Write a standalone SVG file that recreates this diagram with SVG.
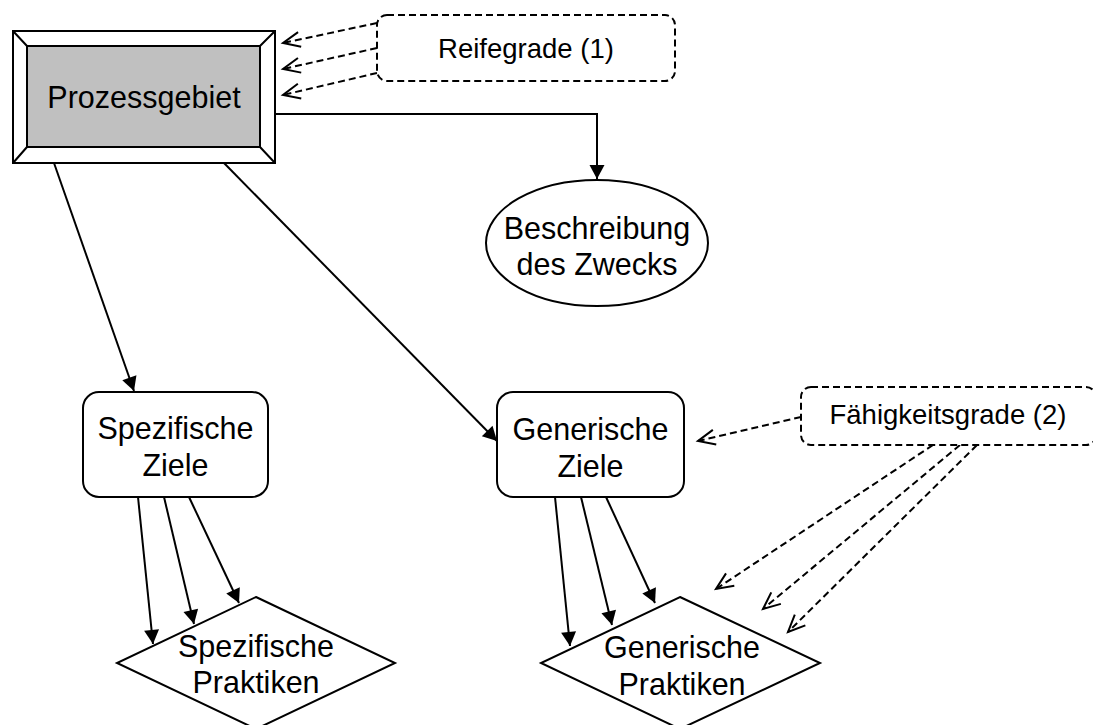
<svg xmlns="http://www.w3.org/2000/svg" width="1093" height="725" viewBox="0 0 1093 725">
<style>
.node{fill:#fff;stroke:#000;stroke-width:2}
.dash{fill:#fff;stroke:#000;stroke-width:2;stroke-dasharray:7 4}
.t{font-family:"Liberation Sans",Arial,Helvetica,sans-serif;font-size:30.5px;fill:#000;text-anchor:middle}
.ts{font-family:"Liberation Sans",Arial,Helvetica,sans-serif;font-size:27.5px;fill:#000;text-anchor:middle}
.e{fill:none;stroke:#000;stroke-width:2}
.ed{fill:none;stroke:#000;stroke-width:2;stroke-dasharray:7 4}
</style>
<defs>
<marker id="af" markerUnits="userSpaceOnUse" markerWidth="16" markerHeight="16" refX="14" refY="7.5" orient="auto" overflow="visible">
<path d="M0,0 L14,7.5 L0,15 z" fill="#000"/>
</marker>
<marker id="ao" markerUnits="userSpaceOnUse" markerWidth="18" markerHeight="18" refX="17" refY="8.5" orient="auto" overflow="visible">
<path d="M0,1 L17,8.5 L0,16" fill="none" stroke="#000" stroke-width="2"/>
</marker>
</defs>
<rect width="1093" height="725" fill="#fff"/>
<g id="connectors">
<path class="e" d="M275,114 H597 V179" marker-end="url(#af)"/>
<path class="e" d="M54,163 L134,391" marker-end="url(#af)"/>
<path class="e" d="M224,163 L497,441" marker-end="url(#af)"/>
<path class="e" d="M138,497 L153,644" marker-end="url(#af)"/>
<path class="e" d="M164,497 L194,624" marker-end="url(#af)"/>
<path class="e" d="M189,497 L239,603" marker-end="url(#af)"/>
<path class="e" d="M555,497 L570,646" marker-end="url(#af)"/>
<path class="e" d="M581,497 L612,625" marker-end="url(#af)"/>
<path class="e" d="M606,497 L655,603" marker-end="url(#af)"/>
<path class="ed" d="M377,23 L283,43" marker-end="url(#ao)"/>
<path class="ed" d="M377,48 L283,69" marker-end="url(#ao)"/>
<path class="ed" d="M377,73 L283,95" marker-end="url(#ao)"/>
<path class="ed" d="M801,417 L698,441" marker-end="url(#ao)"/>
<path class="ed" d="M933,445 L716,589" marker-end="url(#ao)"/>
<path class="ed" d="M960,445 L763,609" marker-end="url(#ao)"/>
<path class="ed" d="M977,445 L788,632" marker-end="url(#ao)"/>
</g>
<g id="prozessgebiet">
<rect class="node" x="13" y="31" width="262" height="132"/>
<rect x="27" y="46" width="233" height="101" fill="#c0c0c0" stroke="#000" stroke-width="2"/>
<path class="e" d="M13,31 L27,46 M275,31 L260,46 M13,163 L27,147 M275,163 L260,147"/>
<text class="t" x="144" y="108">Prozessgebiet</text>
</g>
<g id="reifegrade">
<rect class="dash" x="377" y="15" width="298" height="66" rx="10"/>
<text class="ts" x="526" y="58">Reifegrade (1)</text>
</g>
<g id="beschreibung">
<ellipse class="node" cx="597" cy="243" rx="111" ry="63"/>
<text class="t" x="597" y="239">Beschreibung</text>
<text class="t" x="597" y="275">des Zwecks</text>
</g>
<g id="spez-ziele">
<rect class="node" x="83" y="392" width="185" height="105" rx="16"/>
<text class="t" x="175.5" y="439">Spezifische</text>
<text class="t" x="175.5" y="476">Ziele</text>
</g>
<g id="gen-ziele">
<rect class="node" x="497" y="392" width="187" height="105" rx="16"/>
<text class="t" x="590.5" y="440">Generische</text>
<text class="t" x="590.5" y="477">Ziele</text>
</g>
<g id="faehigkeitsgrade">
<rect class="dash" x="801" y="387" width="295" height="58" rx="10"/>
<text class="ts" x="948" y="424">Fähigkeitsgrade (2)</text>
</g>
<g id="spez-praktiken">
<path class="node" d="M256,597 L395,663 L256,729 L117,663 z"/>
<text class="t" x="256" y="657">Spezifische</text>
<text class="t" x="256" y="693">Praktiken</text>
</g>
<g id="gen-praktiken">
<path class="node" d="M680,597 L820,663 L680,729 L541,663 z"/>
<text class="t" x="682" y="658">Generische</text>
<text class="t" x="682" y="695">Praktiken</text>
</g>
</svg>
